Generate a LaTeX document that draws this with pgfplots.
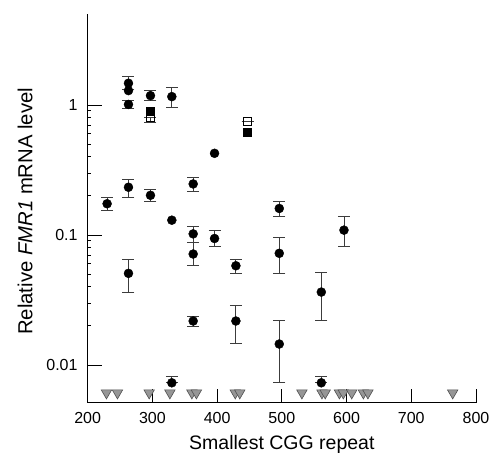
\documentclass[border=0pt]{standalone}
\usepackage{pgfplots}
\pgfplotsset{compat=1.18}
\usepackage{fontspec}
\setmainfont{Liberation Sans}
\definecolor{tri}{RGB}{150,150,150}
\definecolor{triedge}{RGB}{80,80,80}
\definecolor{ebar}{RGB}{60,60,60}
\begin{document}
\begin{tikzpicture}
\begin{axis}[
  scale only axis, width=388.3pt, height=388.7pt,
  xmin=200, xmax=800, ymode=log, ymin=0.00513, ymax=5.01,
  axis x line*=bottom, axis y line*=left,
  axis line style={-, line width=0.9pt, black},
  tick align=inside, major tick length=14pt,
  tick style={line width=0.9pt, black},
  xtick={200,300,400,500,600,700,800},
  ytick={0.01,0.1,1}, yticklabels={0.01,0.1,1},
  minor ytick={}, log ticks with fixed point,
  xticklabel style={font=\fontsize{16}{18}\selectfont, inner sep=0pt, anchor=north, yshift=-9.3pt},
  yticklabel style={font=\fontsize{16}{18}\selectfont, inner sep=0pt, anchor=east, xshift=-10pt},
  yticklabels={0.01,0.1,1},
  /pgf/number format/assume math mode=true,
  xlabel={Smallest CGG repeat},
  ylabel={Relative \textit{FMR1} mRNA level},
  xlabel style={font=\fontsize{19.5}{22}\selectfont, at={(axis description cs:0.5,0)}, anchor=base, yshift=-46.3pt, inner sep=0pt},
  ylabel style={font=\fontsize{20.3}{22}\selectfont, at={(axis description cs:0,0.5)}, anchor=base, yshift=55.4pt, xshift=-3pt, inner sep=0pt},
  clip=false,
]
% circles with error bars
\addplot+[only marks, mark=*, mark size=4.5pt, mark options={fill=black, draw=black}, black,
  error bars/.cd, y dir=both, y explicit,
  error bar style={line width=0.9pt, ebar},
  error mark options={rotate=90, mark size=6pt, line width=0.9pt, ebar}]
  table[x=x, y=y, y error plus=ep, y error minus=em] {
x y ep em
263 1.47 0.18 0.15
263 1.01 0.08 0.07
297 1.18 0.11 0.10
330 1.16 0.20 0.195
230 0.174 0.021 0.019
263 0.233 0.035 0.039
297 0.202 0.021 0.022
363 0.247 0.029 0.030
363 0.102 0.015 0.014
396 0.094 0.015 0.013
496 0.160 0.020 0.021
363 0.0714 0.016 0.0134
429 0.058 0.007 0.0072
496 0.0723 0.0227 0.0213
263 0.0507 0.0143 0.0145
363 0.0218 0.0020 0.0021
429 0.0218 0.0071 0.0072
496 0.0145 0.0076 0.0072
330 0.0073 0.0009 0.0
596 0.109 0.030 0.028
561 0.0364 0.0151 0.0143
561 0.0073 0.0009 0.0
};
% circles without error bars
\addplot+[only marks, mark=*, mark size=4.5pt, mark options={fill=black, draw=black}, black]
  table {
x y
263 1.29
396 0.425
330 0.130
};
% open squares
\addplot+[only marks, mark=square, mark size=4pt, mark options={draw=black, fill=white, line width=0.9pt}, black,
  error bars/.cd, y dir=both, y explicit,
  error bar style={line width=0.9pt, ebar},
  error mark options={rotate=90, mark size=6pt, line width=0.9pt, ebar}]
  table[x=x, y=y, y error plus=ep, y error minus=em] {
x y ep em
297 0.80 0.0 0.07
447 0.753 0.0 0.0
};
% filled squares
\addplot+[only marks, mark=square*, mark size=4pt, mark options={draw=black, fill=black}, black]
  table {
x y
297 0.90
447 0.616
};
% triangles (undetectable)
\addplot+[only marks, mark=triangle*, mark size=6pt, mark options={rotate=180, fill=tri, draw=triedge, line width=0.6pt}, black]
  table {
x y
229 0.0061
246 0.0061
295 0.0061
327 0.0061
361 0.0061
368 0.0061
428 0.0061
435 0.0061
531 0.0061
562 0.0061
567 0.0061
589 0.0061
595 0.0061
608 0.0061
626 0.0061
633 0.0061
764 0.0061
};
\end{axis}
\pgfresetboundingbox
\path[use as bounding box] (-87.7pt,-50.3pt) rectangle (403.3pt,402.7pt);
\end{tikzpicture}
\end{document}
